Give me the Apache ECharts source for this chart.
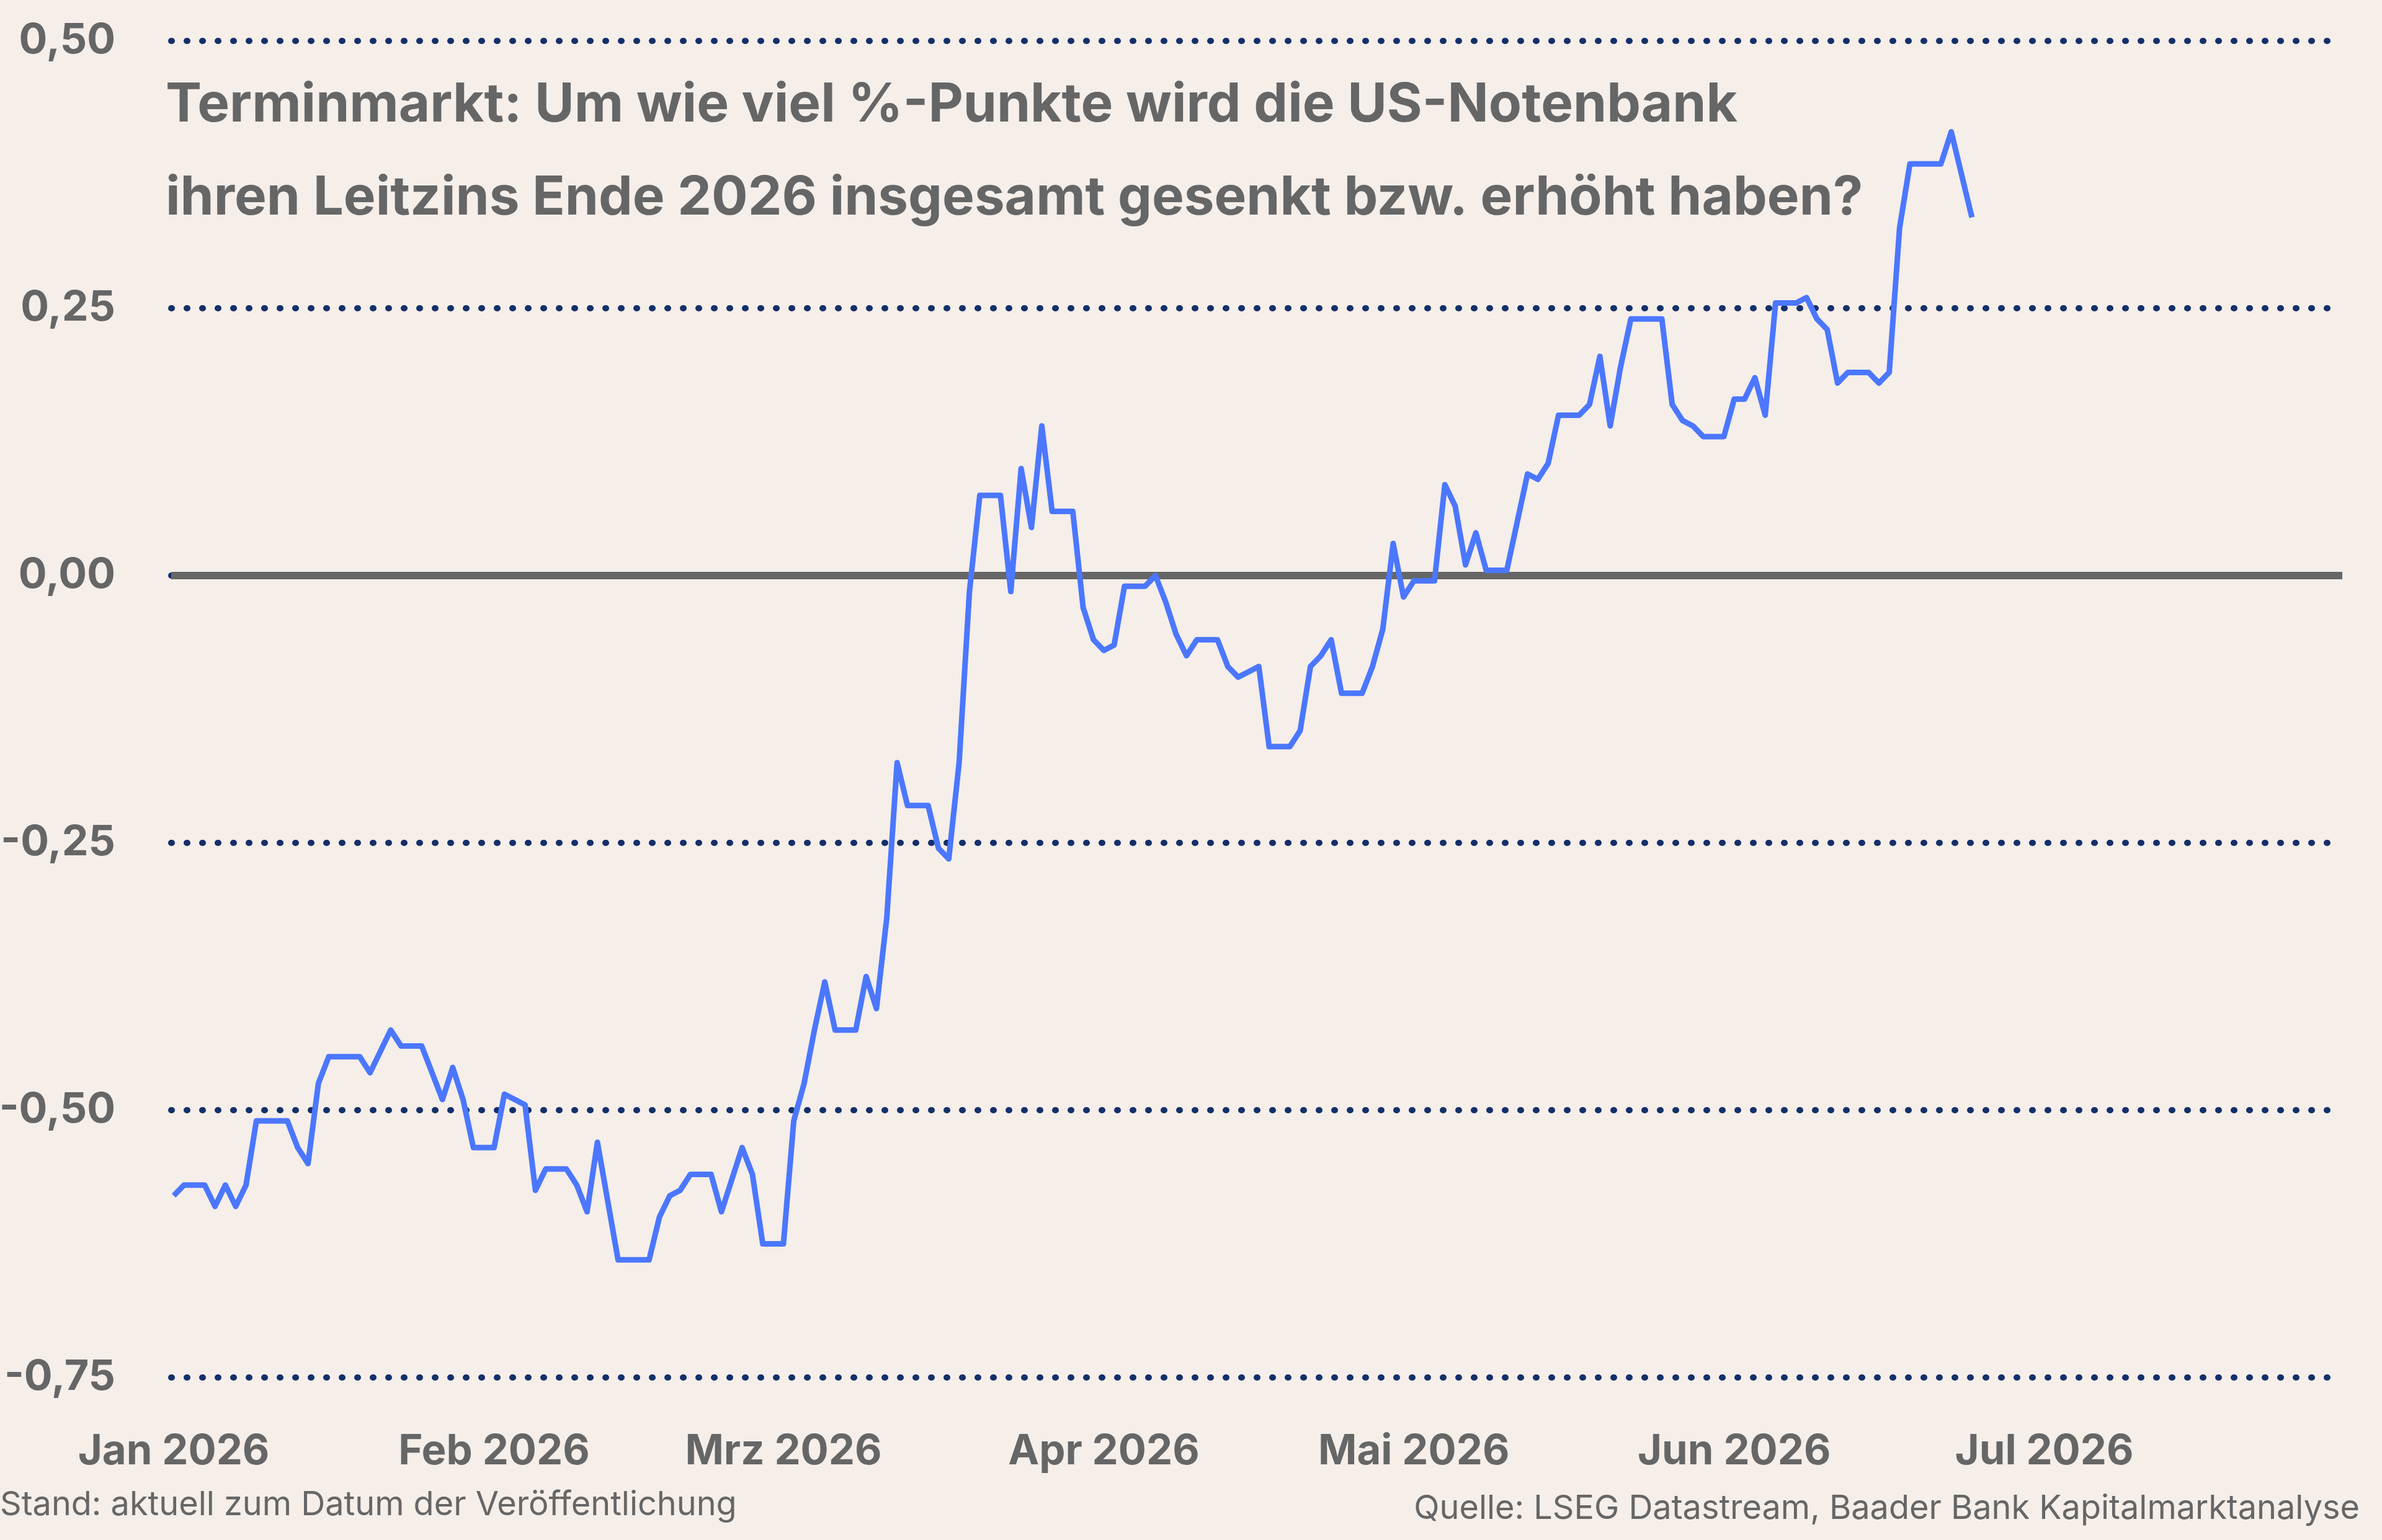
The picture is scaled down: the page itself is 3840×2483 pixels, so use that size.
<!DOCTYPE html>
<html>
<head>
<meta charset="utf-8">
<script src="https://cdn.jsdelivr.net/npm/echarts@6/dist/echarts.min.js"></script>
<style>
  html, body { margin: 0; padding: 0; background: #F5EEE9; }
  #chart { width: 3840px; height: 2483px; }
</style>
</head>
<body>
<div id="chart"></div>
<script>
// daily series, weekends carry the previous value
const startDate = '2026-01-01';
const values = [
  -0.58, -0.57, -0.57, -0.57, -0.59, -0.57, -0.59, -0.57, -0.51, -0.51,
  -0.51, -0.51, -0.535, -0.55, -0.475, -0.45, -0.45, -0.45, -0.45, -0.465,
  -0.445, -0.425, -0.44, -0.44, -0.44, -0.465, -0.49, -0.46, -0.49, -0.535,
  -0.535, -0.535, -0.485, -0.49, -0.495, -0.575, -0.555, -0.555, -0.555, -0.57,
  -0.595, -0.53, -0.585, -0.64, -0.64, -0.64, -0.64, -0.60, -0.58, -0.575,
  -0.56, -0.56, -0.56, -0.595, -0.565, -0.535, -0.56, -0.625, -0.625, -0.625,
  -0.51, -0.475, -0.425, -0.38, -0.425, -0.425, -0.425, -0.375, -0.405, -0.32,
  -0.175, -0.215, -0.215, -0.215, -0.255, -0.265, -0.175, -0.015, 0.075, 0.075,
  0.075, -0.015, 0.10, 0.045, 0.14, 0.06, 0.06, 0.06, -0.03, -0.06,
  -0.07, -0.065, -0.01, -0.01, -0.01, 0.0, -0.025, -0.055, -0.075, -0.06,
  -0.06, -0.06, -0.085, -0.095, -0.09, -0.085, -0.16, -0.16, -0.16, -0.145,
  -0.085, -0.075, -0.06, -0.11, -0.11, -0.11, -0.085, -0.05, 0.03, -0.02,
  -0.005, -0.005, -0.005, 0.085, 0.065, 0.01, 0.04, 0.005, 0.005, 0.005,
  0.05, 0.095, 0.09, 0.105, 0.15, 0.15, 0.15, 0.16, 0.205, 0.14,
  0.195, 0.24, 0.24, 0.24, 0.24, 0.16, 0.145, 0.14, 0.13, 0.13,
  0.13, 0.165, 0.165, 0.185, 0.15, 0.255, 0.255, 0.255, 0.26, 0.24,
  0.23, 0.18, 0.19, 0.19, 0.19, 0.18, 0.19, 0.325, 0.385, 0.385,
  0.385, 0.385, 0.415, 0.375, 0.335
];
const monthNames = ['Jan', 'Feb', 'Mrz', 'Apr', 'Mai', 'Jun', 'Jul', 'Aug', 'Sep', 'Okt', 'Nov', 'Dez'];
const yTicks = [-0.75, -0.5, -0.25, 0, 0.25, 0.5];
const titleText = 'Terminmarkt: Um wie viel %-Punkte wird die US-Notenbank\nihren Leitzins Ende 2026 insgesamt gesenkt bzw. erhöht haben?';
const noteText = 'Stand: aktuell zum Datum der Veröffentlichung';
const sourceText = 'Quelle: LSEG Datastream, Baader Bank Kapitalmarktanalyse';

const DAY = 86400000;
const t0 = new Date(startDate + 'T00:00:00').getTime();
const seriesData = values.map((v, i) => [t0 + i * DAY, v]);

const grey = '#666666';
const font = 'Inter, "Noto Sans", sans-serif';

const chart = echarts.init(document.getElementById('chart'), null, { renderer: 'canvas' });
chart.setOption({
  animation: false,
  backgroundColor: '#F5EEE9',
  textStyle: { fontFamily: font },
  title: {
    text: titleText,
    left: 262,
    top: 90,
    textStyle: { fontFamily: font, fontSize: 87, fontWeight: 700, color: grey, lineHeight: 150 }
  },
  grid: { left: 276, right: 64, top: 66, bottom: 262, containLabel: false, outerBoundsMode: 'none' },
  xAxis: {
    type: 'time',
    min: new Date('2025-12-31T18:14:00').getTime(),
    max: new Date('2026-07-29T20:10:00').getTime(),
    splitNumber: 7,
    minInterval: 28 * DAY,
    maxInterval: 31 * DAY,
    axisLine: { show: false, onZero: false },
    axisTick: { show: false },
    splitLine: { show: false },
    axisLabel: {
      showMinLabel: false,
      showMaxLabel: false,
      margin: 86,
      fontSize: 67,
      fontWeight: 700,
      color: grey,
      fontFamily: font,
      formatter: (val) => {
        const d = new Date(val);
        return monthNames[d.getMonth()] + ' ' + d.getFullYear();
      }
    }
  },
  yAxis: {
    type: 'value',
    min: yTicks[0],
    max: yTicks[yTicks.length - 1],
    interval: 0.25,
    axisLine: { show: false },
    axisTick: { show: false },
    axisLabel: {
      margin: 90,
      fontSize: 68,
      fontWeight: 700,
      color: grey,
      fontFamily: font,
      padding: [0, 0, 18, 0],
      formatter: (v) => {
        const s = Math.abs(v) < 1e-9 ? '0,00' : v.toFixed(2).replace('.', ',');
        return s;
      }
    },
    splitLine: {
      show: true,
      lineStyle: { color: '#14306A', width: 10, type: [1, 24], cap: 'round' }
    }
  },
  series: [
    {
      type: 'line',
      data: [],
      z: 1,
      silent: true,
      markLine: {
        silent: true,
        symbol: 'none',
        label: { show: false },
        lineStyle: { color: grey, width: 12, type: 'solid' },
        data: [{ yAxis: 0 }]
      }
    },
    {
      name: 'Terminmarkt',
      type: 'line',
      data: seriesData,
      z: 5,
      showSymbol: false,
      lineStyle: { color: '#4B77FF', width: 9, join: 'round' },
      itemStyle: { color: '#4B77FF' }
    }
  ],
  graphic: [
    {
      type: 'text',
      left: 0,
      top: 2400,
      style: { text: noteText, fill: grey, font: '54px ' + font }
    },
    {
      type: 'text',
      right: 36,
      top: 2406,
      style: { text: sourceText, fill: grey, font: '54px ' + font }
    }
  ]
});

window.addEventListener('resize', () => chart.resize());
</script>
</body>
</html>
